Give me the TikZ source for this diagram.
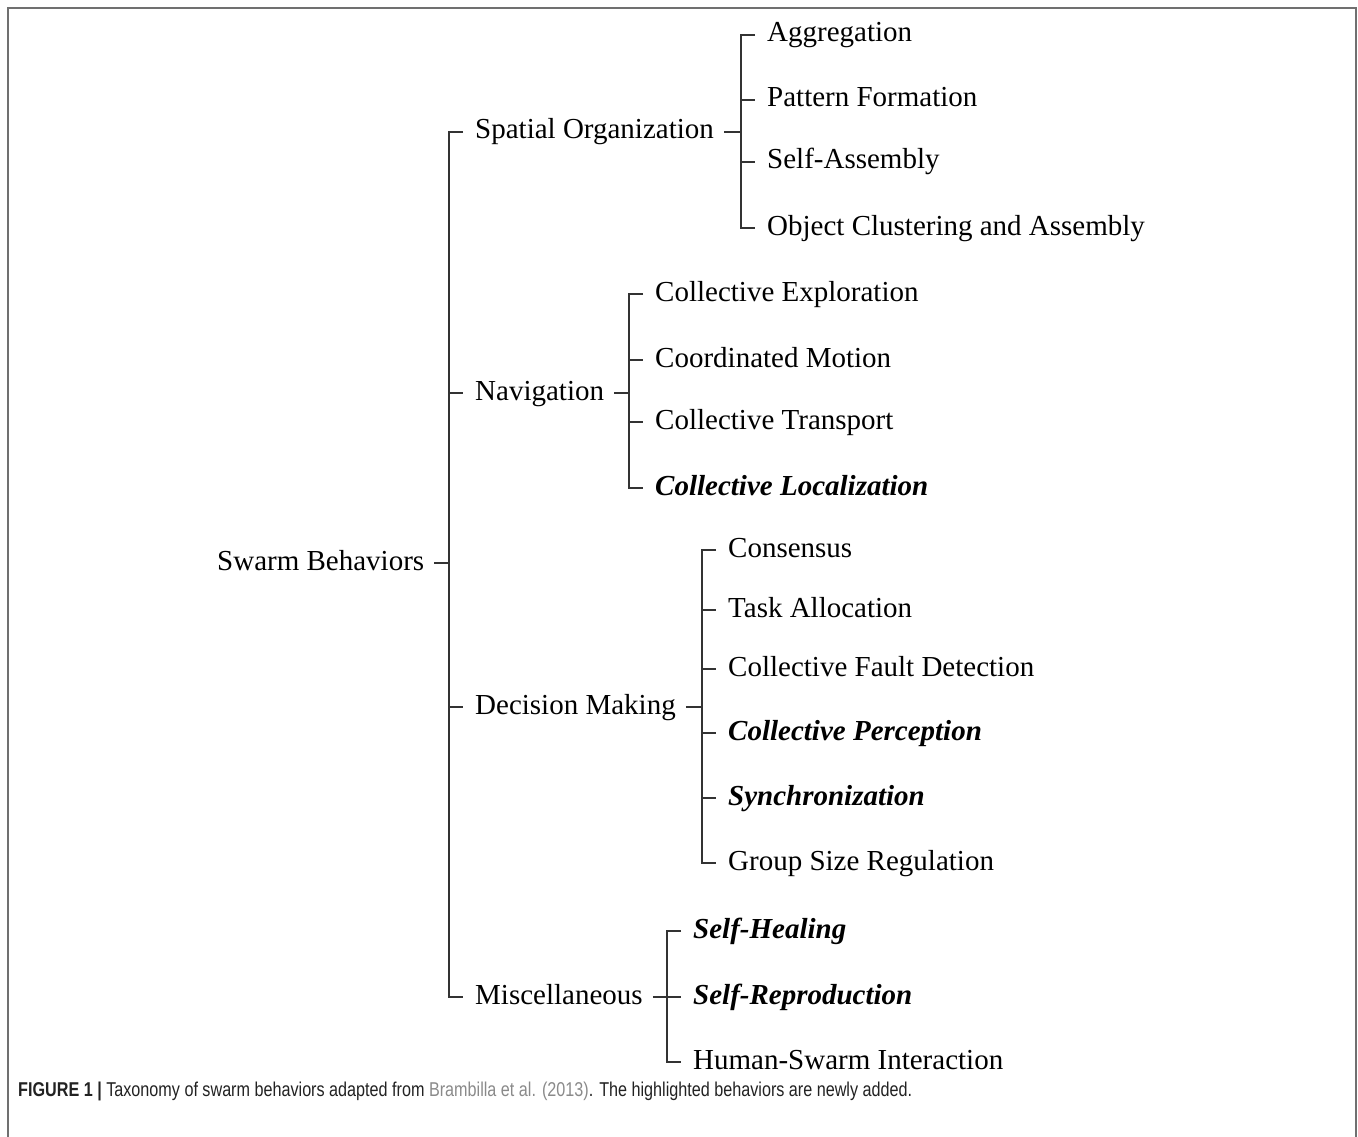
\documentclass[tikz,border=0pt]{standalone}
\usepackage{fontspec}
\usepackage{graphicx}
\setmainfont{Liberation Serif}
\newfontfamily\capfont{Liberation Sans}
\definecolor{linegray}{HTML}{333333}
\definecolor{framegray}{HTML}{707070}
\definecolor{linkgray}{HTML}{8A8A8A}
\definecolor{captext}{HTML}{222222}
\tikzset{
  lab/.style={anchor=west, inner sep=0pt, text height=22pt, text depth=8pt,
              font=\fontsize{29}{34}\selectfont, text=black},
  hl/.style={lab, font=\fontsize{29}{34}\selectfont\bfseries\itshape},
  br/.style={draw=linegray, line width=1.5pt},
}
\begin{document}
\begin{tikzpicture}[x=1pt, y=-1pt]
\useasboundingbox (0,0) rectangle (1358,1137);
% frame
\draw[framegray, line width=2pt] (8,1140) -- (8,8) -- (1356,8) -- (1356,1140);

% nodes
\node[lab] (root) at (217,563) {Swarm Behaviors};
\node[lab] (so) at (475,132) {Spatial Organization};
\node[lab] (nav) at (475,393) {Navigation};
\node[lab] (dm) at (475,707) {Decision Making};
\node[lab] (misc) at (475,997) {Miscellaneous};

\node[lab] (agg) at (767,35) {Aggregation};
\node[lab] (pat) at (767,100) {Pattern Formation};
\node[lab] (sa) at (767,162) {Self-Assembly};
\node[lab] (oca) at (767,228) {Object Clustering and Assembly};

\node[lab] (ce) at (655,294) {Collective Exploration};
\node[lab] (cm) at (655,360) {Coordinated Motion};
\node[lab] (ct) at (655,422) {Collective Transport};
\node[hl] (cl) at (655,488) {Collective Localization};

\node[lab] (con) at (728,550) {Consensus};
\node[lab] (ta) at (728,610) {Task Allocation};
\node[lab] (cfd) at (728,669) {Collective Fault Detection};
\node[hl] (cp) at (728,733) {Collective Perception};
\node[hl] (syn) at (728,798) {Synchronization};
\node[lab] (gsr) at (728,863) {Group Size Regulation};

\node[hl] (sh) at (693,931) {Self-Healing};
\node[hl] (sr) at (693,997) {Self-Reproduction};
\node[lab] (hsi) at (693,1062) {Human-Swarm Interaction};

% vertical bar coordinates
\coordinate (vRoot) at ([xshift=-26pt]so.west);
\coordinate (vSO) at ([xshift=-26pt]agg.west);
\coordinate (vNav) at ([xshift=-26pt]ce.west);
\coordinate (vDM) at ([xshift=-26pt]con.west);
\coordinate (vMisc) at ([xshift=-26pt]sh.west);

% root level
\draw[br] ([xshift=10pt]root.east) -- (root.east -| vRoot);
\draw[br] ([xshift=-12pt]so.west) -| ([xshift=-26pt]misc.west) -- ([xshift=-12pt]misc.west);
\draw[br] ([xshift=-26pt]nav.west) -- ([xshift=-12pt]nav.west);
\draw[br] ([xshift=-26pt]dm.west) -- ([xshift=-12pt]dm.west);

% spatial organization
\draw[br] ([xshift=10pt]so.east) -- (so.east -| vSO);
\draw[br] ([xshift=-12pt]agg.west) -| ([xshift=-26pt]oca.west) -- ([xshift=-12pt]oca.west);
\draw[br] ([xshift=-26pt]pat.west) -- ([xshift=-12pt]pat.west);
\draw[br] ([xshift=-26pt]sa.west) -- ([xshift=-12pt]sa.west);

% navigation
\draw[br] ([xshift=10pt]nav.east) -- (nav.east -| vNav);
\draw[br] ([xshift=-12pt]ce.west) -| ([xshift=-26pt]cl.west) -- ([xshift=-12pt]cl.west);
\draw[br] ([xshift=-26pt]cm.west) -- ([xshift=-12pt]cm.west);
\draw[br] ([xshift=-26pt]ct.west) -- ([xshift=-12pt]ct.west);

% decision making
\draw[br] ([xshift=10pt]dm.east) -- (dm.east -| vDM);
\draw[br] ([xshift=-12pt]con.west) -| ([xshift=-26pt]gsr.west) -- ([xshift=-12pt]gsr.west);
\draw[br] ([xshift=-26pt]ta.west) -- ([xshift=-12pt]ta.west);
\draw[br] ([xshift=-26pt]cfd.west) -- ([xshift=-12pt]cfd.west);
\draw[br] ([xshift=-26pt]cp.west) -- ([xshift=-12pt]cp.west);
\draw[br] ([xshift=-26pt]syn.west) -- ([xshift=-12pt]syn.west);

% miscellaneous
\draw[br] ([xshift=10pt]misc.east) -- (misc.east -| vMisc);
\draw[br] ([xshift=-12pt]sh.west) -| ([xshift=-26pt]hsi.west) -- ([xshift=-12pt]hsi.west);
\draw[br] ([xshift=-26pt]sr.west) -- ([xshift=-12pt]sr.west);

% caption
\node[anchor=west, inner sep=0pt, text=captext] (cap) at (18,1091)
  {\resizebox{894pt}{\height}{\capfont\fontsize{20}{24}\selectfont
   {\bfseries FIGURE 1 |} Taxonomy of swarm behaviors adapted from
   \textcolor{linkgray}{Brambilla et al. (2013)}. The highlighted behaviors are newly added.}};
\end{tikzpicture}
\end{document}
